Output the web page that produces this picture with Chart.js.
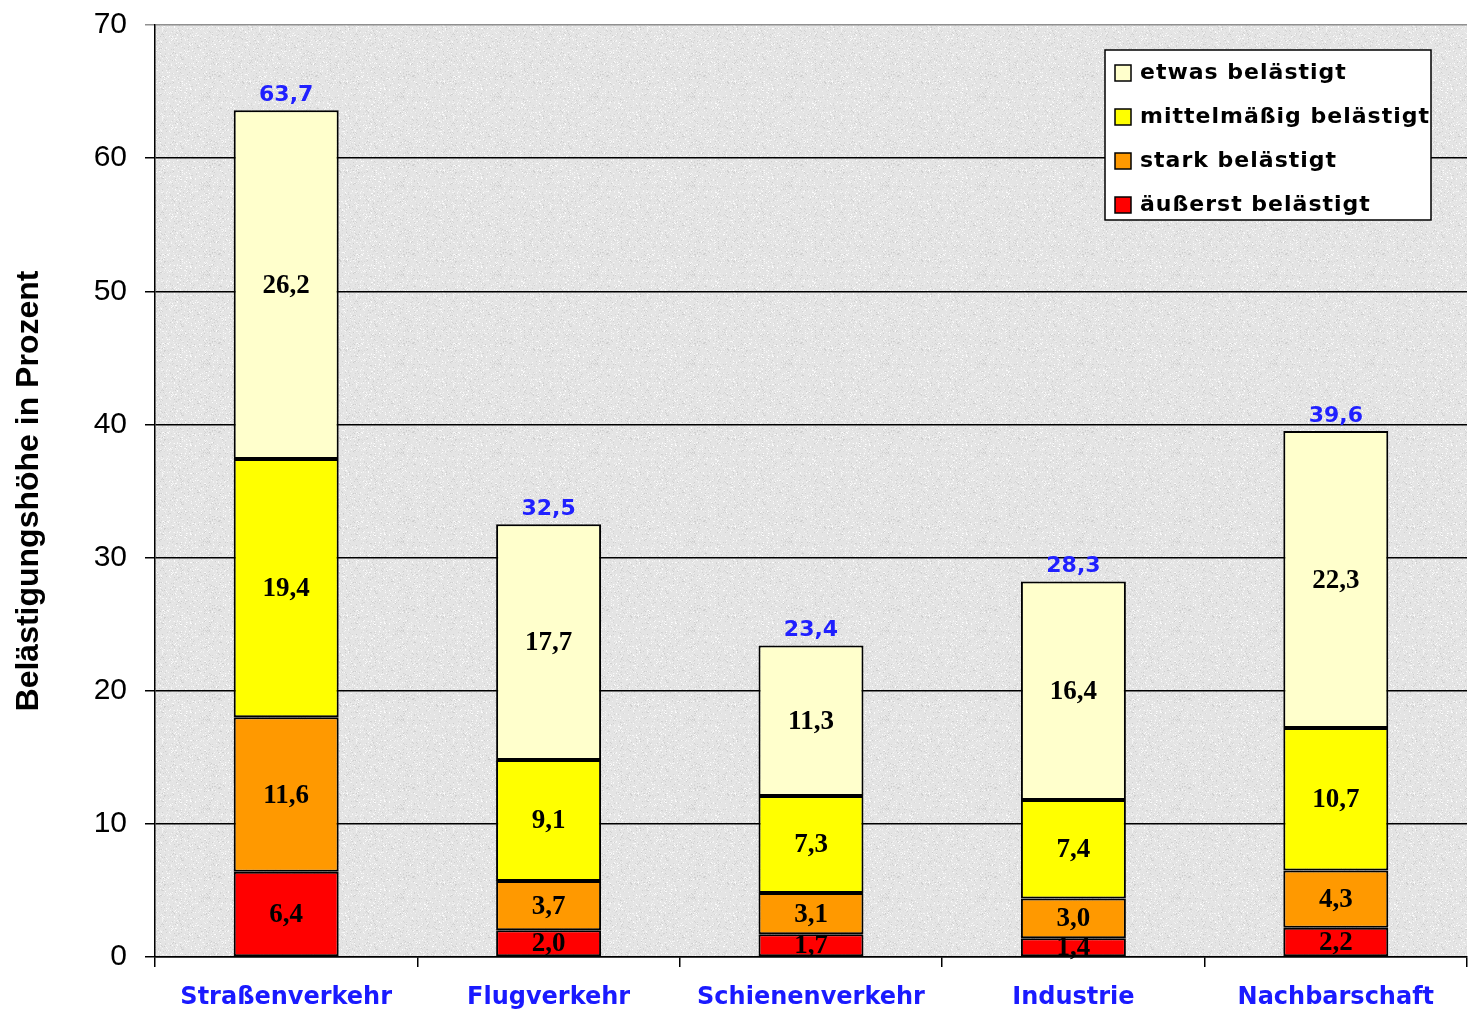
<!DOCTYPE html>
<html>
<head>
<meta charset="utf-8">
<script src="https://cdn.jsdelivr.net/npm/chart.js@4"></script>
<style>
  html, body { margin: 0; padding: 0; background: #ffffff; }
  #wrap { width: 1477px; height: 1013px; }
</style>
</head>
<body>
<div id="wrap"><canvas id="laermChart" width="1477" height="1013"></canvas></div>
<script>
// Werte aus der Grafik
const categories = ['Straßenverkehr', 'Flugverkehr', 'Schienenverkehr', 'Industrie', 'Nachbarschaft'];
const aeusserst = [6.4, 2.0, 1.7, 1.4, 2.2];
const stark = [11.6, 3.7, 3.1, 3.0, 4.3];
const mittel = [19.4, 9.1, 7.3, 7.4, 10.7];
const etwas = [26.2, 17.7, 11.3, 16.4, 22.3];
const totals = [63.7, 32.5, 23.4, 28.3, 39.6];
const yTicks = [0, 10, 20, 30, 40, 50, 60, 70];

const fmt = v => v.toFixed(1).replace('.', ',');

// grey speckled background of the plot area
function makeTexture() {
  const c = document.createElement('canvas');
  c.width = 97; c.height = 89;
  const g = c.getContext('2d');
  g.fillStyle = '#e4e4e4';
  g.fillRect(0, 0, 97, 89);
  let s = 11;
  for (let i = 0; i < 2600; i++) {
    s = (s * 9301 + 49297) % 233280;
    const x = s % 97;
    s = (s * 9301 + 49297) % 233280;
    const y = s % 89;
    s = (s * 9301 + 49297) % 233280;
    const v = 205 + (s % 50);
    g.fillStyle = `rgb(${v},${v},${v})`;
    g.fillRect(x, y, 1, 1);
  }
  return c;
}

const plotBg = {
  id: 'plotBg',
  beforeDraw(chart) {
    const { ctx, chartArea: a } = chart;
    ctx.save();
    ctx.fillStyle = ctx.createPattern(makeTexture(), 'repeat');
    ctx.fillRect(a.left, a.top, a.right - a.left, a.bottom - a.top);
    ctx.restore();
  }
};

const barLabels = {
  id: 'barLabels',
  afterDatasetsDraw(chart) {
    const ctx = chart.ctx;
    ctx.save();
    ctx.textAlign = 'center';
    ctx.textBaseline = 'middle';
    ctx.font = 'bold 27px "Liberation Serif"';
    ctx.fillStyle = '#000000';
    chart.data.datasets.forEach((ds, di) => {
      chart.getDatasetMeta(di).data.forEach((bar, i) => {
        ctx.fillText(fmt(ds.data[i]), bar.x, (bar.y + bar.base) / 2 + 1);
      });
    });
    // totals above the bars
    const top = chart.getDatasetMeta(chart.data.datasets.length - 1).data;
    ctx.font = 'bold 22px "DejaVu Sans"';
    ctx.fillStyle = '#2020ff';
    ctx.textBaseline = 'bottom';
    top.forEach((bar, i) => {
      ctx.fillText(fmt(totals[i]), bar.x, bar.y - 4);
    });
    ctx.restore();
  }
};

// legend box inside the plot, top right
const boxLegend = {
  id: 'boxLegend',
  afterDraw(chart) {
    const ctx = chart.ctx;
    const x = 1105, y = 50, w = 326, h = 170;
    ctx.save();
    ctx.fillStyle = '#ffffff';
    ctx.fillRect(x, y, w, h);
    ctx.strokeStyle = '#000000';
    ctx.lineWidth = 1.5;
    ctx.strokeRect(x, y, w, h);
    ctx.font = 'bold 22px "DejaVu Sans"';
    ctx.letterSpacing = '1px';
    ctx.textBaseline = 'middle';
    const sets = chart.data.datasets.slice().reverse();
    sets.forEach((ds, k) => {
      const cy = y + 23 + k * 44;
      ctx.fillStyle = ds.backgroundColor;
      ctx.fillRect(x + 10, cy - 8, 16, 16);
      ctx.lineWidth = 1.5;
      ctx.strokeRect(x + 10, cy - 8, 16, 16);
      ctx.fillStyle = '#000000';
      ctx.fillText(ds.label, x + 35, cy);
    });
    ctx.restore();
  }
};

const seg = (label, data, color) => ({
  label: label,
  data: data,
  backgroundColor: color,
  borderColor: '#000000',
  borderWidth: 2,
  borderSkipped: false,
  barPercentage: 0.4,
  categoryPercentage: 1.0
});

const ctx = document.getElementById('laermChart').getContext('2d');
const laermChart = new Chart(ctx, {
  type: 'bar',
  data: {
    labels: categories,
    datasets: [
      seg('äußerst belästigt', aeusserst, '#ff0000'),
      seg('stark belästigt', stark, '#ff9900'),
      seg('mittelmäßig belästigt', mittel, '#ffff00'),
      seg('etwas belästigt', etwas, '#ffffcc')
    ]
  },
  options: {
    responsive: false,
    animation: false,
    layout: { padding: { left: 0, top: 25, right: 10, bottom: 0 } },
    plugins: {
      legend: { display: false },
      tooltip: { enabled: false }
    },
    scales: {
      x: {
        stacked: true,
        offset: true,
        grid: {
          offset: true,
          drawOnChartArea: false,
          drawTicks: true,
          tickLength: 10,
          color: '#000000',
          lineWidth: 1.5
        },
        border: { color: '#000000', width: 1.5 },
        ticks: {
          color: '#1a1aff',
          font: { family: 'DejaVu Sans', size: 24, weight: 'bold' },
          padding: 16,
          maxRotation: 0
        },
        afterFit(scale) { scale.height = 56; }
      },
      y: {
        stacked: true,
        min: 0,
        max: 70,
        afterBuildTicks(scale) { scale.ticks = yTicks.map(v => ({ value: v })); },
        grid: {
          color: c => c.tick && c.tick.value === 70 ? '#909090' : '#000000',
          lineWidth: 1.5,
          tickLength: 10
        },
        border: { color: '#000000', width: 1.5 },
        ticks: {
          color: '#000000',
          font: { family: 'Liberation Sans', size: 30 },
          padding: 18
        },
        title: {
          display: true,
          text: 'Belästigungshöhe in Prozent',
          color: '#000000',
          font: { family: 'Liberation Sans', size: 32, weight: 'bold' },
          padding: { top: 10, bottom: 0 }
        },
        afterFit(scale) {
          scale.width = 155;
          scale.paddingTop = 0;
          scale.paddingBottom = 0;
        }
      }
    }
  },
  plugins: [plotBg, barLabels, boxLegend]
});
</script>
</body>
</html>
